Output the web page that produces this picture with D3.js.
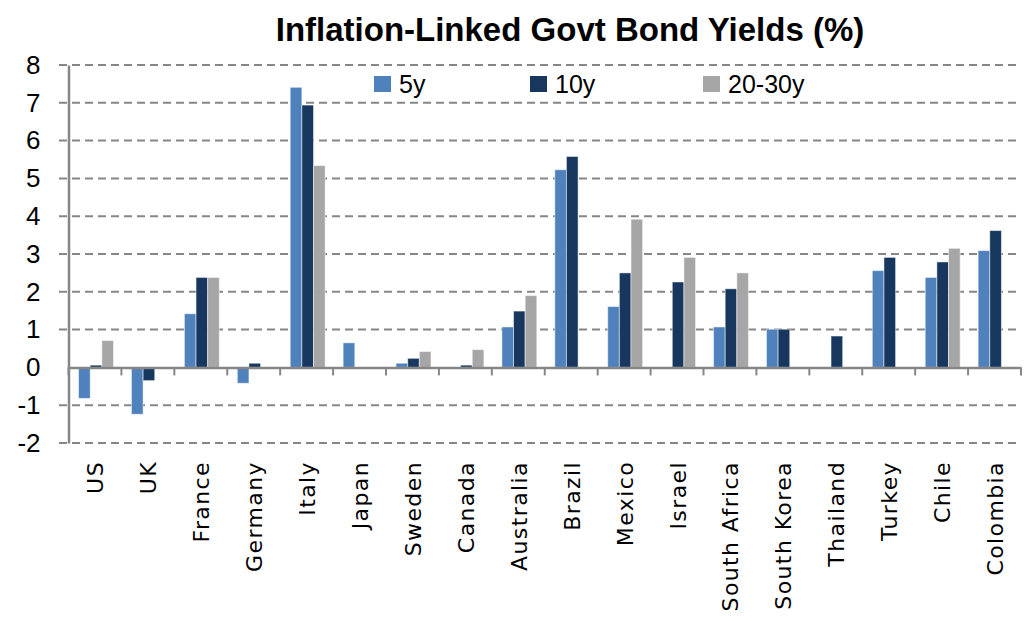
<!DOCTYPE html>
<html><head><meta charset="utf-8">
<script src="https://cdn.jsdelivr.net/npm/d3@7"></script>
<style>body{margin:0;background:#fff}svg{display:block}</style>
</head><body>
<svg id="c" width="1024" height="621"></svg>
<script>
const categories = ["US","UK","France","Germany","Italy","Japan","Sweden","Canada","Australia","Brazil","Mexico","Israel","South Africa","South Korea","Thailand","Turkey","Chile","Colombia"];
const seriesNames = ["5y","10y","20-30y"];
const y5 =   [-0.82,-1.24,1.42,-0.42,7.41,0.65,0.11,null,1.07,5.23,1.61,null,1.07,1.01,null,2.56,2.38,3.09];
const y10 =  [0.06,-0.35,2.38,0.11,6.94,null,0.24,0.06,1.49,5.58,2.50,2.26,2.08,1.01,0.83,2.91,2.79,3.62];
const y2030 =[0.71,null,2.38,null,5.34,null,0.42,0.47,1.90,null,3.92,2.91,2.50,null,null,null,3.15,null];
const yTicks = [-2,-1,0,1,2,3,4,5,6,7,8];
const colors = ["#4F81BD","#17375E","#A6A6A6"];
const series = [y5,y10,y2030];

(function(){
const svg = d3.select("#c");
const pl = 68.5, pr = 1021, pt = 65, pb = 443;
const x = d3.scaleBand().domain(categories).range([pl,pr]).padding(0);
const y = d3.scaleLinear().domain([-2,8]).range([pb,pt]);
const step = x.bandwidth();
const xs = d3.scaleBand().domain(seriesNames).range([step*0.19, step*0.85]).padding(0);

// gridlines
svg.append("g").selectAll("line").data(yTicks.filter(d=>d!==0)).join("line")
  .attr("x1",59).attr("x2",pr).attr("y1",d=>y(d)).attr("y2",d=>y(d))
  .attr("stroke","#868686").attr("stroke-width",2).attr("stroke-dasharray","8,5");

// y axis
const yAxis = d3.axisLeft(y).tickValues(yTicks).tickSize(0).tickPadding(28).tickFormat(d=>String(d));
const gy = svg.append("g").attr("transform",`translate(${pl},0)`).call(yAxis);
gy.select(".domain").attr("stroke","#868686").attr("stroke-width",2.5);
gy.selectAll("text").attr("font-family","Liberation Sans, Arial, sans-serif").attr("font-size",26).attr("fill","#000");

// bars
const groups = svg.append("g").selectAll("g").data(categories).join("g")
  .attr("transform",d=>`translate(${x(d)},0)`);
groups.selectAll("rect").data((c,i)=>series.map((s,j)=>({k:seriesNames[j],v:s[i],j})).filter(d=>d.v!==null))
  .join("rect")
  .attr("x",d=>xs(d.k)).attr("width",xs.bandwidth())
  .attr("y",d=>y(Math.max(0,d.v))).attr("height",d=>Math.abs(y(d.v)-y(0)))
  .attr("fill",d=>colors[d.j]).attr("stroke","#ffffff").attr("stroke-opacity",0.5).attr("stroke-width",1);

// zero axis
const xAxis = d3.axisBottom(x).tickSize(0).tickFormat("");
const gx = svg.append("g").attr("transform",`translate(0,${y(0)})`).call(xAxis);
gx.select(".domain").attr("stroke","#868686").attr("stroke-width",2.5);
gx.append("g").selectAll("line").data(categories.map((c)=>x(c)+step).concat([pl])).join("line")
  .attr("x1",d=>d).attr("x2",d=>d).attr("y1",0).attr("y2",8)
  .attr("stroke","#868686").attr("stroke-width",2);

// x labels
svg.append("g").selectAll("text").data(categories).join("text")
  .attr("transform",d=>`translate(${x(d)+step/2+1},461) rotate(-90)`)
  .attr("text-anchor","end").attr("dominant-baseline","central")
  .attr("font-family","DejaVu Sans, sans-serif").attr("font-size",22).attr("letter-spacing",1.4)
  .text(d=>d);

// title
svg.append("text").attr("x",570).attr("y",41).attr("text-anchor","middle")
  .attr("font-family","Liberation Sans, Arial, sans-serif").attr("font-weight","bold").attr("font-size",33)
  .text("Inflation-Linked Govt Bond Yields (%)");

// legend
const legX = [374,530,703];
const leg = svg.append("g").selectAll("g").data(seriesNames).join("g")
  .attr("transform",(d,i)=>`translate(${legX[i]},76)`);
leg.append("rect").attr("width",17).attr("height",16).attr("fill",(d,i)=>colors[i]);
leg.append("text").attr("x",25).attr("y",17).attr("font-family","Liberation Sans, Arial, sans-serif")
  .attr("font-size",25).text(d=>d);
})();
</script>
</body></html>
